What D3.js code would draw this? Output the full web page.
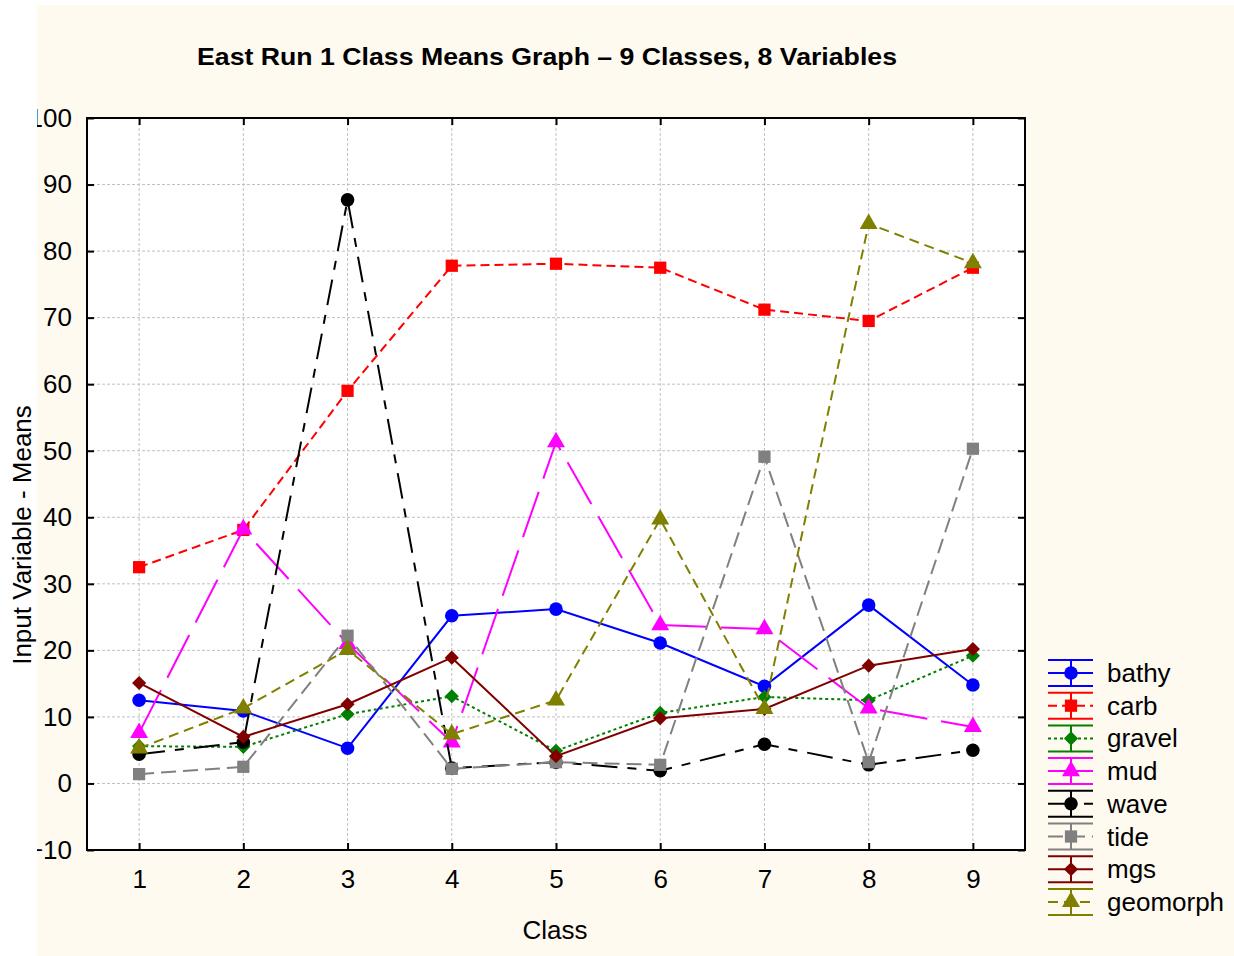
<!DOCTYPE html>
<html><head><meta charset="utf-8">
<script src="https://cdn.jsdelivr.net/npm/d3@7"></script>
<style>body{margin:0;background:#fff}svg{display:block}text{font-family:"Liberation Sans",Arial,sans-serif}</style>
</head><body>
<script>
const classes = [1,2,3,4,5,6,7,8,9];
const yTicks = [-10,0,10,20,30,40,50,60,70,80,90,100];
const bathy    = [12.5,10.9,5.3,25.2,26.2,21.1,14.6,26.8,14.8];
const carb     = [32.5,38.1,59.0,77.8,78.1,77.5,71.2,69.5,77.5];
const gravel   = [5.6,5.5,10.4,13.1,4.9,10.6,13.0,12.5,19.2];
const mud      = [7.6,38.2,21.0,6.2,51.3,23.8,23.2,11.3,8.5];
const wave     = [4.4,6.2,87.7,2.3,3.2,1.9,5.9,2.8,5.0];
const tide     = [1.4,2.5,22.2,2.2,3.2,2.8,49.1,3.2,50.3];
const mgs      = [15.1,7.0,11.9,18.9,4.1,9.8,11.2,17.7,20.2];
const geomorph = [5.3,11.3,20.1,7.4,12.5,39.7,11.2,84.1,78.2];
const seriesNames = ["bathy","carb","gravel","mud","wave","tide","mgs","geomorph"];
const seriesValues = [bathy,carb,gravel,mud,wave,tide,mgs,geomorph];
const colors = ["#0000ff","#ff0000","#008000","#ff00ff","#000000","#808080","#800000","#808000"];
const dashes = [null,"9,5","3,3","48,14","26,10,9,10","15,7",null,"10,6"];
const shapes = ["circle","square","diamond","triangle","circle","square","diamond","triangle"];
const title = "East Run 1 Class Means Graph \u2013 9 Classes, 8 Variables";

const W=1234,H=956;
const svg=d3.select("body").append("svg").attr("width",W).attr("height",H);
svg.append("rect").attr("x",37).attr("y",5).attr("width",W-37).attr("height",H-5).attr("fill","#fefaf0");
svg.append("clipPath").attr("id","bg").append("rect").attr("x",37).attr("y",5).attr("width",W-37).attr("height",H-5);

const L=87,R=1025,T=118,B=850;
const x=d3.scaleLinear().domain([0.5,9.5]).range([L,R]);
const y=d3.scaleLinear().domain([-10,100]).range([B,T]);

svg.append("rect").attr("x",L).attr("y",T).attr("width",R-L).attr("height",B-T).attr("fill","#fff");
// grid
const g=svg.append("g");
g.selectAll(".gy").data(yTicks.filter(v=>v>-10&&v<100)).join("line")
 .attr("x1",L).attr("x2",R).attr("y1",d=>y(d)).attr("y2",d=>y(d))
 .attr("stroke","#c0c0c0").attr("stroke-dasharray","3,2").attr("stroke-width",1);
g.selectAll(".gx").data(classes).join("line")
 .attr("y1",T).attr("y2",B).attr("x1",d=>x(d)).attr("x2",d=>x(d))
 .attr("stroke","#c0c0c0").attr("stroke-dasharray","3,2").attr("stroke-width",1);

// axes (inward ticks)
const FS=26;
const clipG=svg.append("g").attr("clip-path","url(#bg)");
const axL=clipG.append("g").attr("transform",`translate(${L},0)`).call(d3.axisLeft(y).tickValues(yTicks).tickSizeInner(-7).tickSizeOuter(0).tickPadding(15));
const axR=svg.append("g").attr("transform",`translate(${R},0)`).call(d3.axisRight(y).tickValues(yTicks).tickSizeInner(-7).tickSizeOuter(0).tickFormat(""));
const axB=svg.append("g").attr("transform",`translate(0,${B})`).call(d3.axisBottom(x).tickValues(classes).tickSizeInner(-7).tickSizeOuter(0).tickPadding(20));
const axT=svg.append("g").attr("transform",`translate(0,${T})`).call(d3.axisTop(x).tickValues(classes).tickSizeInner(-7).tickSizeOuter(0).tickFormat(""));
[axL,axR,axB,axT].forEach(a=>{a.select(".domain").remove();a.selectAll("line").attr("stroke","#000").attr("stroke-width",2);
 a.selectAll("text").attr("font-size",FS).attr("fill","#000").attr("font-family","Liberation Sans, Arial, sans-serif");});
svg.append("rect").attr("x",L).attr("y",T).attr("width",R-L).attr("height",B-T).attr("fill","none").attr("stroke","#000").attr("stroke-width",2);

function sym(sel,shape,color){
  const sizes={circle:145,square:150,diamond:100,triangle:140};
  const types={circle:d3.symbolCircle,square:d3.symbolSquare,diamond:d3.symbolSquare,triangle:d3.symbolTriangle};
  sel.attr("d",d3.symbol().type(types[shape]).size(sizes[shape])).attr("fill",color).attr("stroke","none");
  if(shape==="diamond") sel.attr("transform",function(){return (d3.select(this).attr("transform")||"")+" rotate(45)";});
}

const line=d3.line().x((d,i)=>x(classes[i])).y(d=>y(d));
seriesValues.forEach((vals,k)=>{
  const gs=svg.append("g");
  gs.append("path").datum(vals).attr("d",line).attr("fill","none").attr("stroke",colors[k]).attr("stroke-width",2)
    .attr("stroke-dasharray",dashes[k]);
  gs.selectAll("path.m").data(vals).join("path").attr("class","m")
    .attr("transform",(d,i)=>`translate(${x(classes[i])},${y(d)})`).call(sym,shapes[k],colors[k]);
});

// legend
const lg=svg.append("g");
seriesNames.forEach((n,k)=>{
  const cy=673+k*32.7, x0=1048,x1=1093,xc=1071;
  const c=colors[k];
  const e=lg.append("g");
  e.append("line").attr("x1",x0).attr("x2",x1).attr("y1",cy-13).attr("y2",cy-13).attr("stroke",c).attr("stroke-width",2);
  e.append("line").attr("x1",x0).attr("x2",x1).attr("y1",cy+13).attr("y2",cy+13).attr("stroke",c).attr("stroke-width",2);
  e.append("line").attr("x1",xc).attr("x2",xc).attr("y1",cy-13).attr("y2",cy+13).attr("stroke",c).attr("stroke-width",2);
  e.append("line").attr("x1",x0).attr("x2",x1).attr("y1",cy).attr("y2",cy).attr("stroke",c).attr("stroke-width",2).attr("stroke-dasharray",dashes[k]);
  e.append("path").attr("transform",`translate(${xc},${cy})`).call(sym,shapes[k],c);
  e.append("text").attr("x",1107).attr("y",cy+9).attr("font-size",FS).attr("fill","#000").text(n);
});

svg.append("text").attr("x",547).attr("y",65).attr("text-anchor","middle").attr("font-size",24).attr("font-weight","bold")
  .attr("textLength",700).attr("lengthAdjust","spacingAndGlyphs").text(title);
svg.append("text").attr("x",555).attr("y",939).attr("text-anchor","middle").attr("font-size",FS).text("Class");
svg.append("text").attr("transform","translate(31,535) rotate(-90)").attr("text-anchor","middle").attr("font-size",FS).text("Input Variable - Means");
</script>
</body></html>
